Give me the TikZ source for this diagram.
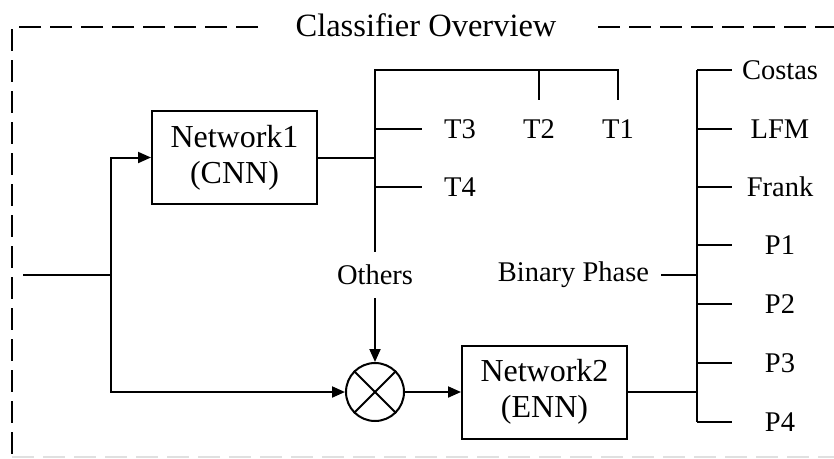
\documentclass[tikz,border=0pt]{standalone}
\usepackage{fontspec}
\setmainfont{Liberation Serif}
\usetikzlibrary{arrows.meta}

\begin{document}
\begin{tikzpicture}[x=1pt,y=-1pt,line width=2pt,
  netbox/.style={draw, minimum width=165pt, minimum height=93pt, inner sep=0pt,
    align=center, font=\fontsize{32}{36}\selectfont},
  lbl/.style={inner sep=0pt, font=\fontsize{28.5}{30}\selectfont},
  arr/.style={-{Triangle[length=13pt,width=11pt]}},
  frame/.style={line width=2.3pt, dash pattern=on 22pt off 9pt}]
\useasboundingbox (0,0) rectangle (834,458);

% dashed frame with title
\node[inner sep=0pt, font=\fontsize{32.5}{34}\selectfont] (title) at (426,25) {Classifier Overview};
\draw[frame] (258,27) -- (12,27) -- (12,458);
\draw[frame] (598,27) -- (840,27);
\draw[frame, line width=2pt, black!12] (12,457) -- (840,457);

% blocks
\node[netbox] (net1) at (234.5,157.5) {Network1\\(CNN)};
\node[netbox] (net2) at (544.5,392) {Network2\\(ENN)};
\node[draw, circle, minimum size=58pt, inner sep=0pt] (mult) at (375,392) {};
\draw (mult.north west) -- (mult.south east);
\draw (mult.north east) -- (mult.south west);

% input split
\coordinate (in) at (23,275);
\coordinate (split) at (111,275);
\draw (in) -- (split);
\draw[arr] (split) |- (net1.west);
\draw[arr] (split) |- (mult.west);

% first classifier outputs
\coordinate (t0) at (375,70);
\coordinate (t1top) at (618,70);
\coordinate (t1end) at (618,100);
\coordinate (t2top) at (539,70);
\coordinate (t2end) at (539,100);
\node[lbl] (T1) at (618,129) {T1};
\node[lbl] (T2) at (539,129) {T2};
\node[lbl] (T3) at (460,129) {T3};
\node[lbl] (T4) at (460,187) {T4};
\node[lbl, inner ysep=12pt] (others) at (375,275) {Others};

\draw (net1.east) -- (net1.east -| t0);
\draw (others.north) -- (t0) -- (t1top) -- (t1end);
\draw (t2top) -- (t2end);
\draw (T3 -| t0) -- ++(47,0);
\draw (T4 -| t0) -- ++(47,0);
\draw[arr] (others.south) -- (mult.north);

% second classifier
\draw[arr] (mult.east) -- (net2.west);

\coordinate (r0) at (697,70);
\coordinate (r6) at (697,422);
\draw (r0) -- (r6);
\draw (net2.east) -- (net2.east -| r0);

\node[lbl] (costas) at (780,70) {Costas};
\node[lbl] (lfm) at (780,129) {LFM};
\node[lbl] (frank) at (780,187) {Frank};
\node[lbl] (p1) at (780,245) {P1};
\node[lbl] (p2) at (780,304) {P2};
\node[lbl] (p3) at (780,363) {P3};
\node[lbl] (p4) at (780,422) {P4};
\foreach \n in {costas,lfm,frank,p1,p2,p3,p4}
  \draw (\n -| r0) -- ++(35,0);

\node[lbl, anchor=east] (bp) at (650,275) {Binary Phase};
\draw ([xshift=11pt]bp.east) -- (bp -| r0);
\end{tikzpicture}
\end{document}
